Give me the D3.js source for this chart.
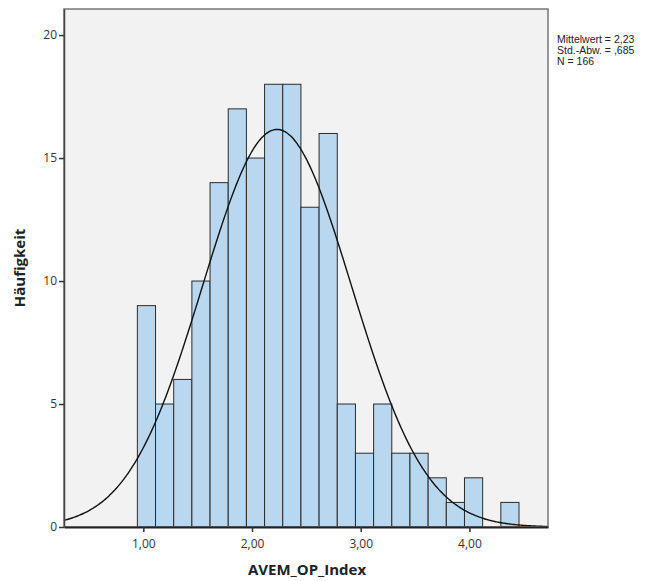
<!DOCTYPE html>
<html>
<head>
<meta charset="utf-8">
<script src="https://cdn.jsdelivr.net/npm/d3@7"></script>
<style>
  body { margin: 0; background: #fff; }
  text { font-family: "Open Sans", "DejaVu Sans", sans-serif; fill: #333; }
  .axis-title { font-weight: bold; font-size: 15px; fill: #222; }
  .tick text { font-size: 12px; }
  .legend text { font-family: "Liberation Sans", Arial, sans-serif; font-size: 10.5px; fill: #222; }
</style>
</head>
<body>
<div class="app"></div>
<script>
'use strict'

// Häufigkeiten pro Klasse
var counts = [9, 5, 6, 10, 14, 17, 15, 18, 18, 13, 16, 5, 3, 5, 3, 3, 2, 1, 2, 0, 1];
var binStart = 0.945;
var binWidth = 0.1672;

var xTicks = [1, 2, 3, 4];
var yTicks = [0, 5, 10, 15, 20];

var mean = 2.23;
var sd = 0.685;
var n = 166;
var legendLines = ["Mittelwert = 2,23", "Std.-Abw. = ,685", "N = 166"];

var margin = { top: 9, right: 119, bottom: 54, left: 64 };
var width = 667 - margin.left - margin.right;
var height = 581 - margin.top - margin.bottom;

var x = d3.scaleLinear().domain([0.27, 4.723]).range([0, width]);
var y = d3.scaleLinear().domain([0, 21.06]).range([height, 0]);

var de = d3.formatLocale({ decimal: ",", thousands: ".", grouping: [3], currency: ["", "€"] });

var svg = d3.select(".app").append("svg")
  .attr("width", 667)
  .attr("height", 581);

var g = svg.append("g")
  .attr("transform", "translate(" + margin.left + "," + margin.top + ")");

g.append("rect")
  .attr("width", width)
  .attr("height", height)
  .attr("fill", "#f2f2f2");

// Balken
var bins = counts.map(function(c, i) {
  return { x0: binStart + i * binWidth, x1: binStart + (i + 1) * binWidth, count: c };
});

g.selectAll(".bar")
  .data(bins.filter(function(d) { return d.count > 0; }))
  .enter().append("rect")
  .attr("class", "bar")
  .attr("x", function(d) { return x(d.x0); })
  .attr("y", function(d) { return y(d.count); })
  .attr("width", function(d) { return x(d.x1) - x(d.x0); })
  .attr("height", function(d) { return y(0) - y(d.count); })
  .attr("fill", "#b9d8f0")
  .attr("stroke", "#2b2b2b")
  .attr("stroke-width", 1);

// Normalverteilungskurve
var curvePts = d3.range(0, 301).map(function(i) {
  var xv = x.domain()[0] + (x.domain()[1] - x.domain()[0]) * i / 300;
  var z = (xv - mean) / sd;
  return [xv, n * binWidth / (sd * Math.sqrt(2 * Math.PI)) * Math.exp(-0.5 * z * z)];
});

g.append("path")
  .attr("d", d3.line()
    .x(function(d) { return x(d[0]); })
    .y(function(d) { return y(d[1]); })
    .curve(d3.curveBasis)(curvePts))
  .attr("fill", "none")
  .attr("stroke", "#111")
  .attr("stroke-width", 1.4);

// Rahmen
g.append("rect")
  .attr("width", width)
  .attr("height", height)
  .attr("fill", "none")
  .attr("stroke", "#777")
  .attr("stroke-width", 1.5);

var xAxis = d3.axisBottom(x).tickValues(xTicks).tickFormat(de.format(".2f")).tickSize(5).tickSizeOuter(0);
var yAxis = d3.axisLeft(y).tickValues(yTicks).tickSize(5).tickSizeOuter(0);

var xg = g.append("g")
  .attr("transform", "translate(0," + height + ")")
  .call(xAxis);
xg.select(".domain").attr("stroke", "#222").attr("stroke-width", 2);
xg.selectAll(".tick line").attr("stroke", "#333").attr("stroke-width", 1.5);
xg.selectAll(".tick text").attr("dy", "1.1em");

var yg = g.append("g").call(yAxis);
yg.select(".domain").attr("stroke", "#444").attr("stroke-width", 1.5);
yg.selectAll(".tick line").attr("stroke", "#333").attr("stroke-width", 1.5);
yg.selectAll(".tick text").attr("x", -7);

// Achsentitel
svg.append("text")
  .attr("class", "axis-title")
  .attr("transform", "translate(25," + 268 + ") rotate(-90)")
  .attr("text-anchor", "middle")
  .text("Häufigkeit");

svg.append("text")
  .attr("class", "axis-title")
  .attr("x", 307)
  .attr("y", 575)
  .attr("text-anchor", "middle")
  .text("AVEM_OP_Index");

// Legende
var legend = svg.append("g").attr("class", "legend");
legend.selectAll("text")
  .data(legendLines)
  .enter().append("text")
  .attr("x", 557)
  .attr("y", function(d, i) { return 43 + i * 11; })
  .text(function(d) { return d; });
</script>
</body>
</html>
